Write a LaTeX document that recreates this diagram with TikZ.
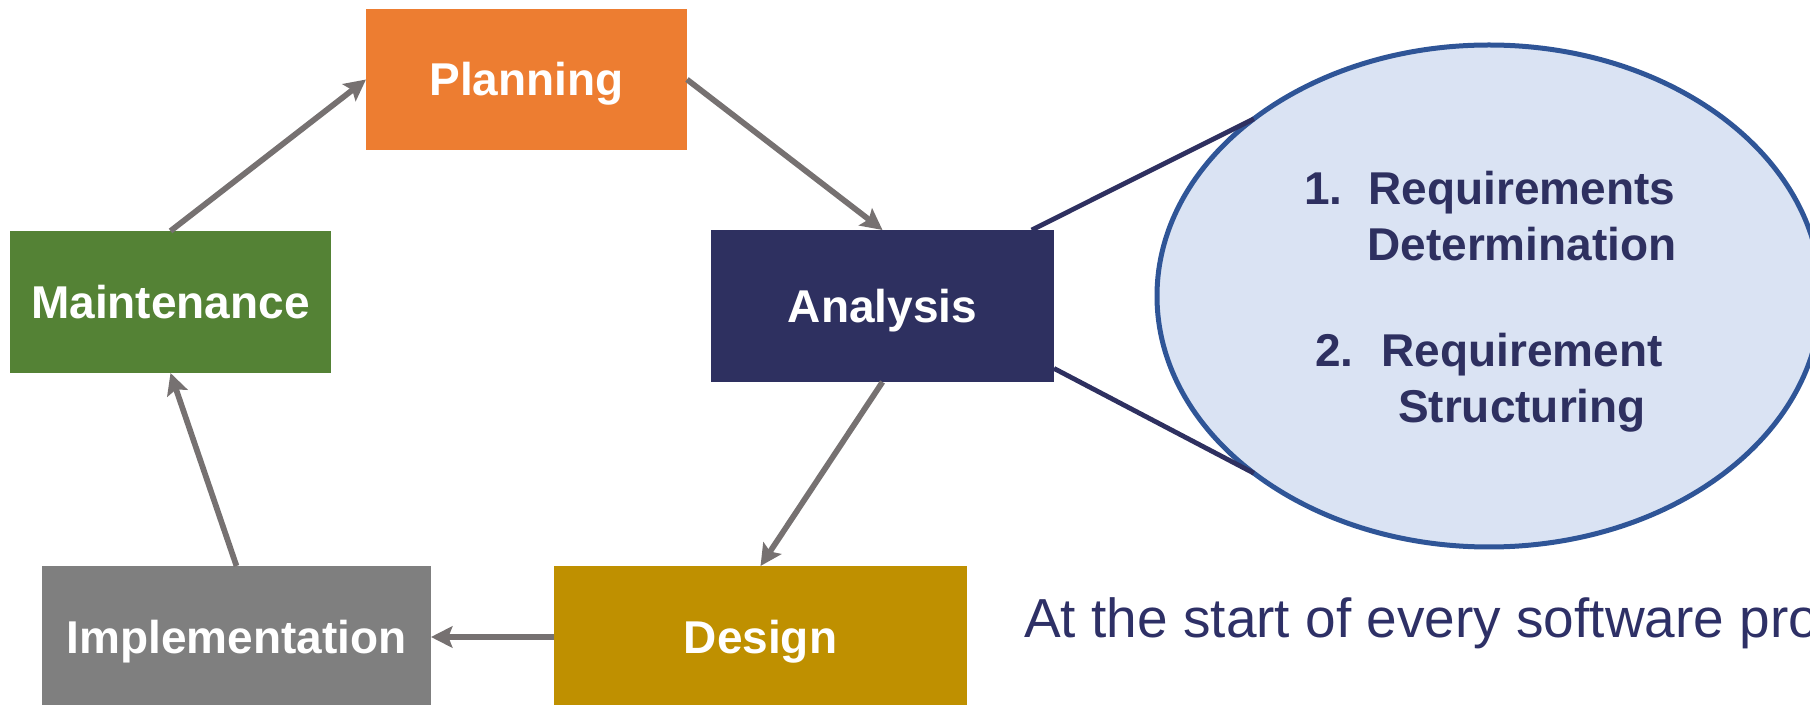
\documentclass[tikz,border=0pt]{standalone}
\usepackage{fontspec}
\setmainfont{Liberation Sans}
\usetikzlibrary{arrows.meta,shapes.geometric}

\begin{document}
\begin{tikzpicture}[x=0.75pt,y=0.75pt,yscale=-1,xscale=1,
  phase/.style={rectangle, inner sep=0pt, outer sep=0pt, text=white,
    font=\fontsize{34.5}{42}\selectfont\bfseries, text height=24.7pt, text depth=0pt},
  flow/.style={draw={rgb, 255:red, 118; green, 113; blue, 113}, line width=4.3pt,
    -{Stealth[length=16pt,width=16pt,inset=3pt]}},
  callout/.style={draw={rgb, 255:red, 46; green, 48; blue, 96}, line width=3.6pt},
  steptext/.style={inner sep=0pt, align=center, text={rgb, 255:red, 46; green, 48; blue, 96},
    font=\fontsize{34.5}{42}\selectfont\bfseries}
]
%set diagram frame 1810 x 705
\clip (0,0) rectangle (1810,705);

%Shape: Rectangle [Planning]
\node [phase, fill={rgb, 255:red, 237; green, 125; blue, 49}, minimum width=240.75pt, minimum height=105.75pt] (plan) at (526.5,79.5) {Planning};
%Shape: Rectangle [Maintenance]
\node [phase, fill={rgb, 255:red, 84; green, 130; blue, 53}, minimum width=240.75pt, minimum height=106.5pt] (maint) at (170.5,302) {Maintenance};
%Shape: Rectangle [Analysis]
\node [phase, fill={rgb, 255:red, 46; green, 48; blue, 96}, minimum width=257.25pt, minimum height=114pt] (ana) at (882.5,306) {Analysis};
%Shape: Rectangle [Implementation]
\node [phase, fill={rgb, 255:red, 127; green, 127; blue, 127}, minimum width=291.75pt, minimum height=106.5pt] (impl) at (236.5,637) {Implementation};
%Shape: Rectangle [Design]
\node [phase, fill={rgb, 255:red, 191; green, 144; blue, 0}, minimum width=309.75pt, minimum height=106.5pt] (design) at (760.5,637) {Design};

%Straight Lines [cycle]
\draw [flow] (maint.north) -- (plan.west);
\draw [flow] (plan.east) -- (ana.north);
\draw [flow] (ana.south) -- (design.north);
\draw [flow] (design.west) -- (impl.east);
\draw [flow] (impl.north) -- (maint.south);

%Shape: Ellipse [detail of the analysis phase]
\node [ellipse, draw={rgb, 255:red, 47; green, 85; blue, 151}, line width=3.75pt, fill={rgb, 255:red, 218; green, 227; blue, 243}, inner sep=0pt, outer sep=0pt, minimum width=498pt, minimum height=376.5pt] (zoomell) at (1489,296) {};
%Straight Lines [callout]
\draw [callout] (ana.27.6) -- (zoomell.143.2);
\draw [callout] (ana.-20.5) -- (zoomell.217.5);

% Text Node (base is the last line)
\node [steptext, anchor=base] (req1) at (1522,261) {Requirements\\Determination};
\node [steptext, anchor=base east] (num1) at (1343,205) {1.};
% Text Node
\node [steptext, anchor=base] (req2) at (1522,423) {Requirement\\Structuring};
\node [steptext, anchor=base east] (num2) at (1354,367) {2.};

% Text Node
\node [anchor=base west, inner sep=0pt, text={rgb, 255:red, 46; green, 48; blue, 102}, font=\fontsize{41.25}{50}\selectfont] (intro) at (1024,637) {At the start of every software project};

\end{tikzpicture}
\end{document}
